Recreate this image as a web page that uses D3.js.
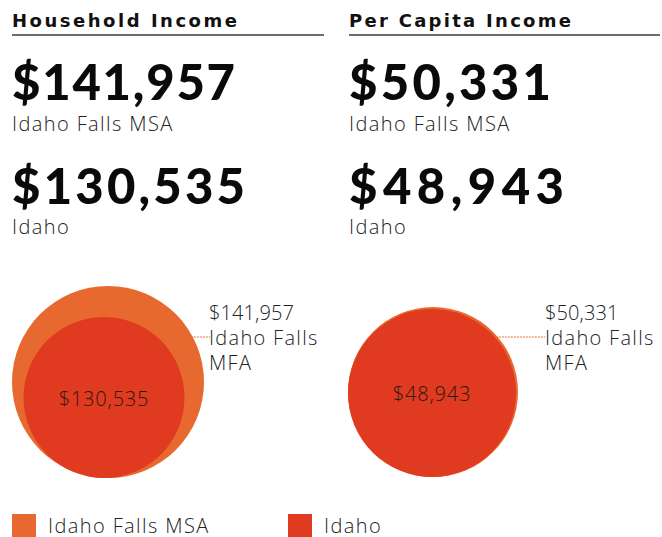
<!DOCTYPE html>
<html>
<head>
<meta charset="utf-8">
<script src="https://cdn.jsdelivr.net/npm/d3@7"></script>
<style>
  html, body { margin: 0; padding: 0; background: #fff; }
  svg { display: block; }
</style>
</head>
<body>
<svg id="svg"></svg>
<script>
// data
var panelTitles = ["Household Income", "Per Capita Income"];
var areaNames = ["Idaho Falls MSA", "Idaho"];
var msaValues = [141957, 50331];
var idahoValues = [130535, 48943];
var calloutLines = ["Idaho Falls", "MFA"];

var width = 662, height = 537;
var colors = { msa: "#E8692F", idaho: "#E03A20" };
var fmt = d3.format("$,");
var boldFont = "Lato, 'DejaVu Sans', sans-serif";
var titleFont = "'DejaVu Sans', Lato, sans-serif";
var lightFont = "'Open Sans', Lato, sans-serif";

var svg = d3.select("#svg").attr("width", width).attr("height", height);

// layout per panel (title width and big number widths)
var panels = [
  { x: 12, rule: 312, titleW: 225, numW: [223, 233], cx: 108, icx: 104, base: 478, rMin: 80.5, rMax: 96, lineX: 210, labelX: 209 },
  { x: 349, rule: 311, titleW: 222, numW: [202, 215], cx: 433, icx: 432, base: 477, rMin: 84, rMax: 85, lineX: 545, labelX: 545 }
];

function light(sel, size, ls){
  return sel.attr("font-family", lightFont)
    .attr("font-weight", 300)
    .attr("font-size", size)
    .attr("letter-spacing", ls)
    .attr("fill", "#222");
}

panels.forEach(function(p, i){
  var g = svg.append("g");

  g.append("text")
    .attr("x", p.x).attr("y", 27)
    .attr("font-family", titleFont)
    .attr("font-weight", 700)
    .attr("font-size", 18)
    .attr("textLength", p.titleW)
    .attr("lengthAdjust", "spacing")
    .attr("fill", "#111")
    .text(panelTitles[i]);

  g.append("line")
    .attr("x1", p.x).attr("x2", p.x + p.rule)
    .attr("y1", 35).attr("y2", 35)
    .attr("stroke", "#6b6b6b").attr("stroke-width", 2);

  // big numbers + names
  [msaValues[i], idahoValues[i]].forEach(function(v, j){
    g.append("text")
      .attr("x", p.x).attr("y", 100 + j * 104)
      .attr("font-family", boldFont)
      .attr("font-weight", 900)
      .attr("font-size", 49)
      .attr("textLength", p.numW[j])
      .attr("lengthAdjust", "spacing")
      .attr("fill", "#0a0a0a")
      .text(fmt(v));
    light(g.append("text"), 20, 1.4)
      .attr("x", p.x).attr("y", 131 + j * 103)
      .text(areaNames[j]);
  });

  // circles, radius per panel
  var r = d3.scaleLinear()
    .domain([idahoValues[i], msaValues[i]])
    .range([p.rMin, p.rMax]);

  var rO = r(msaValues[i]), rI = r(idahoValues[i]);

  g.append("circle")
    .attr("cx", p.cx).attr("cy", p.base - rO).attr("r", rO)
    .attr("fill", colors.msa);
  g.append("circle")
    .attr("cx", p.icx).attr("cy", p.base - rI).attr("r", rI)
    .attr("fill", colors.idaho);

  light(g.append("text"), 20, 0.8)
    .attr("x", p.icx).attr("y", p.base - rI + 8)
    .attr("text-anchor", "middle")
    .attr("fill", "#2a1a14")
    .text(fmt(idahoValues[i]));

  // callout line from outer circle edge
  var ly = 337;
  var dy = ly - (p.base - rO);
  var edgeX = p.cx + Math.sqrt(Math.max(0, rO * rO - dy * dy));
  g.append("line")
    .attr("x1", edgeX - 2).attr("x2", p.lineX)
    .attr("y1", ly).attr("y2", ly)
    .attr("stroke", colors.msa).attr("stroke-width", 1)
    .attr("stroke-dasharray", "2,1");

  var lab = light(g.append("text"), 20, 0);
  [fmt(msaValues[i])].concat(calloutLines).forEach(function(t, k){
    lab.append("tspan").attr("x", p.labelX).attr("y", 320 + k * 25)
      .attr("letter-spacing", k == 0 ? 0.1 : 1.3)
      .text(t);
  });
});

// legend
var legend = svg.append("g");
[{ name: areaNames[0], c: colors.msa, x: 12 }, { name: areaNames[1], c: colors.idaho, x: 288 }]
  .forEach(function(d){
    legend.append("rect")
      .attr("x", d.x).attr("y", 514).attr("width", 24).attr("height", 23)
      .attr("fill", d.c);
    light(legend.append("text"), 20, 1.4)
      .attr("x", d.x + 36).attr("y", 533)
      .text(d.name);
  });
</script>
</body>
</html>
